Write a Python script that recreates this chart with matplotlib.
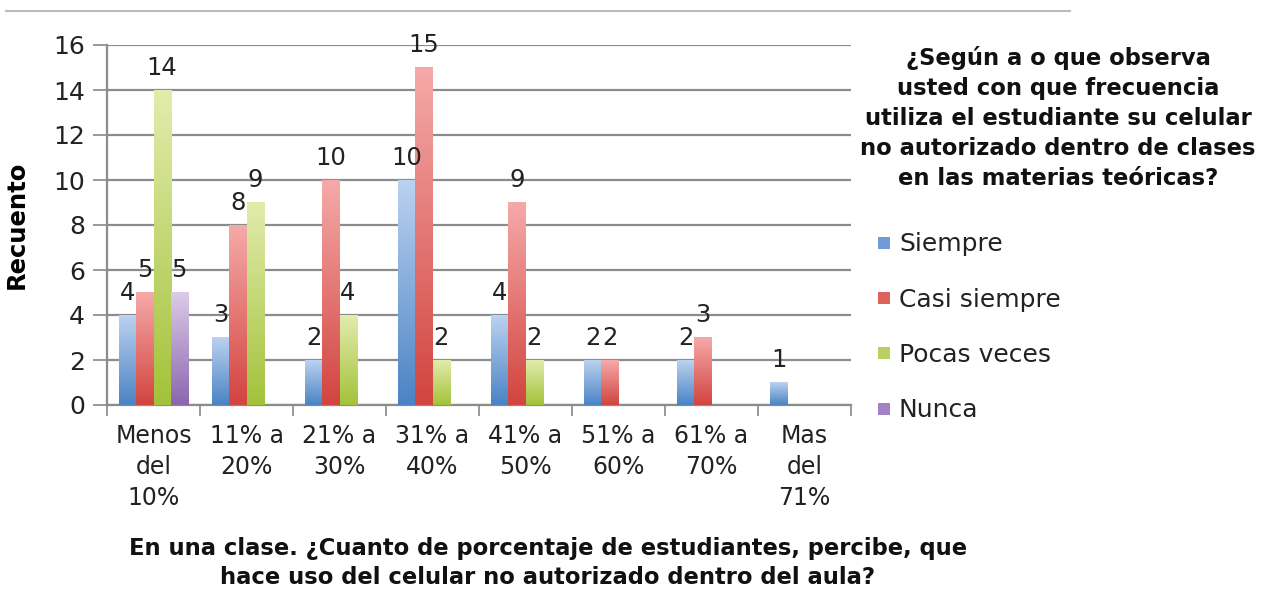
import numpy as np
import matplotlib
matplotlib.use("Agg")
import matplotlib.pyplot as plt
from matplotlib.colors import LinearSegmentedColormap
from matplotlib.lines import Line2D

categories = ["Menos\ndel\n10%", "11% a\n20%", "21% a\n30%", "31% a\n40%",
              "41% a\n50%", "51% a\n60%", "61% a\n70%", "Mas\ndel\n71%"]
series_names = ["Siempre", "Casi siempre", "Pocas veces", "Nunca"]
siempre = [4, 3, 2, 10, 4, 2, 2, 1]
casi_siempre = [5, 8, 10, 15, 9, 2, 3, 0]
pocas_veces = [14, 9, 4, 2, 2, 0, 0, 0]
nunca = [5, 0, 0, 0, 0, 0, 0, 0]
series = [siempre, casi_siempre, pocas_veces, nunca]

mid_colors = ["#6f9bd6", "#e0605c", "#b9d160", "#a383c4"]
top_colors = ["#bcd2f0", "#f5aaa9", "#e2ecac", "#dccbe8"]
bot_colors = ["#4a83c4", "#d2443f", "#a3c23a", "#8b66ae"]

plt.rcParams['font.family'] = ['DejaVu Sans']

fig = plt.figure(figsize=(12.63, 5.92), dpi=100)
ax = fig.add_axes([107/1263, 1-405/592, (851-107)/1263, (405-45)/592])

x = np.arange(len(categories))
bw = 0.183
offsets = (np.arange(4) - 1.5) * bw
grad = np.linspace(0, 1, 256).reshape(-1, 1)
handles = []
for i, (vals, name) in enumerate(zip(series, series_names)):
    xs = x + 0.5 + offsets[i]
    bars = ax.bar(xs, vals, width=bw, color=mid_colors[i], label=name, zorder=2,
                  linewidth=0)
    cmap = LinearSegmentedColormap.from_list("g%d" % i, [bot_colors[i], top_colors[i]])
    for b, v in zip(bars, vals):
        if v <= 0:
            continue
        x0 = b.get_x()
        ax.imshow(grad, cmap=cmap, origin="lower", aspect="auto",
                  extent=(x0, x0 + bw, 0, v), zorder=3, interpolation="bicubic")
        ax.text(x0 + bw / 2, v + 0.45, str(v), ha="center", va="bottom",
                fontsize=17.5, color="#222222", zorder=4)
    handles.append(Line2D([], [], marker="s", linestyle="none", markersize=9,
                          markerfacecolor=mid_colors[i], markeredgewidth=0, label=name))

ax.set_xlim(0, 8)
ax.set_ylim(0, 16)
ax.set_yticks(np.arange(0, 17, 2))
ax.set_xticks(np.arange(0, 9))
ax.set_xticklabels([])
ax.set_xticks(x + 0.5, minor=True)
ax.set_xticklabels(categories, minor=True, fontsize=17, color="#222222",
                   linespacing=1.35)
ax.tick_params(axis="x", which="minor", length=0, pad=14)
ax.tick_params(axis="x", which="major", length=8, width=1.2, color="#888888")
ax.tick_params(axis="y", length=10, width=1.2, color="#888888", labelsize=18,
               labelcolor="#222222", pad=6)
ax.yaxis.grid(True, color="#8c8c8c", linewidth=1.6, zorder=0)
ax.set_axisbelow(True)
for s in ["top", "right"]:
    ax.spines[s].set_visible(False)
ax.spines["left"].set_color("#8c8c8c")
ax.spines["left"].set_linewidth(1.6)
ax.spines["bottom"].set_color("#8c8c8c")
ax.spines["bottom"].set_linewidth(1.6)

ax.set_ylabel("Recuento", fontsize=17.5, fontweight="bold")
ax.yaxis.set_label_coords(-0.105, 0.5)

fig.text(548/1263, 1-563/592,
         "En una clase. ¿Cuanto de porcentaje de estudiantes, percibe, que\n"
         "hace uso del celular no autorizado dentro del aula?",
         ha="center", va="center", fontsize=16.3, fontweight="bold",
         linespacing=1.38, color="#111111")

fig.text(1058/1263, 1-118/592,
         "¿Según a o que observa\nusted con que frecuencia\nutiliza el estudiante su celular\n"
         "no autorizado dentro de clases\nen las materias teóricas?",
         ha="center", va="center", fontsize=16.3, fontweight="bold",
         linespacing=1.4, color="#111111")

leg = fig.legend(handles=handles, loc="upper left",
                 bbox_to_anchor=(864/1263, 1-220/592), frameon=False,
                 fontsize=18, labelspacing=1.25, handlelength=0.6,
                 handletextpad=0.3, borderpad=0, labelcolor="#222222")

fig.add_artist(Line2D([6/1263, 1070/1263], [1-11/592, 1-11/592],
                      color="#bbbbbb", linewidth=1.5, transform=fig.transFigure))

fig.savefig("out.png", dpi=100)
